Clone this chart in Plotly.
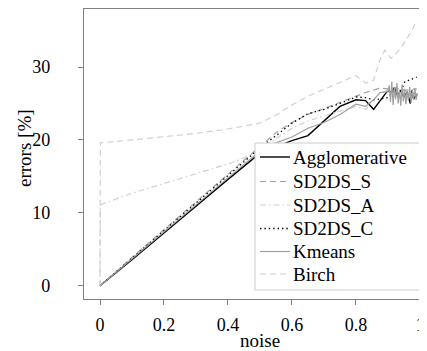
import plotly.graph_objects as go

# shared noise grid (main part)
noise = [0, 0.001, 0.1, 0.2, 0.3, 0.4, 0.5, 0.55, 0.6, 0.65, 0.7, 0.75, 0.8, 0.83, 0.855, 0.875, 0.9]

agglomerative = [0, 0.04, 3.6, 7.3, 10.9, 14.6, 18.2, 19.1, 19.9, 20.6, 22.6, 24.6, 25.5, 25.4, 24.2, 25.3, 26.8]
sd2ds_s = [0, 0.04, 3.9, 7.7, 11.5, 15.3, 19.2, 21.0, 22.4, 23.5, 24.3, 25.2, 26.0, 26.5, 26.8, 27.1, 27.0]
sd2ds_a = [0, 11.1, 12.7, 14.0, 15.4, 16.7, 18.4, 20.2, 21.6, 22.6, 23.3, 24.0, 24.6, 24.2, 25.5, 26.5, 26.8]
sd2ds_c = [0, 0.04, 3.8, 7.6, 11.4, 15.1, 18.9, 20.6, 22.3, 23.6, 24.2, 25.0, 25.9, 25.8, 25.5, 25.6, 25.8]
kmeans = [0, 0.04, 3.7, 7.4, 11.1, 14.8, 18.5, 19.6, 20.4, 21.6, 22.4, 23.5, 24.9, 24.6, 25.5, 26.5, 26.6]
birch = [0, 19.6, 20.0, 20.4, 20.9, 21.5, 22.3, 23.4, 24.8, 26.0, 26.9, 27.8, 28.8, 27.8, 28.2, 31.0, 32.0]

# tails (high-noise region)
agg_tail_x = [0.91, 0.92, 0.93, 0.94, 0.95, 0.96, 0.97, 0.975, 0.98, 0.99]
agg_tail = [26.5, 27.2, 26.0, 26.8, 25.9, 26.6, 25.0, 26.8, 25.6, 26.3]
s_tail_x = [0.92, 0.95, 0.99]
s_tail = [27.2, 26.8, 27.0]
a_tail_x = [0.92, 0.95, 0.99]
a_tail = [26.0, 26.5, 26.2]
c_tail_x = [0.92, 0.935, 0.953, 0.974, 0.99]
c_tail = [26.8, 26.2, 28.0, 28.4, 28.6]
km_tail_x = [0.904, 0.908, 0.912, 0.916, 0.92, 0.924, 0.928, 0.932, 0.936, 0.94, 0.944, 0.948,
             0.952, 0.956, 0.96, 0.964, 0.968, 0.972, 0.976, 0.98, 0.984, 0.988, 0.992]
km_tail = [27.5, 25.2, 28.0, 24.8, 27.2, 25.6, 27.8, 25.0, 26.9, 24.7, 27.6, 25.3,
           27.0, 24.9, 26.6, 25.4, 27.3, 25.1, 26.8, 25.6, 27.1, 25.5, 26.4]
birch_tail_x = [0.89, 0.91, 0.925, 0.94, 0.96, 0.975, 0.99]
birch_tail = [32.3, 31.2, 31.8, 32.6, 34.0, 35.0, 36.4]

FONT = "Liberation Serif, Times New Roman, serif"

# page body has an 8px margin: figure is drawn at (8, 8) in the window
OFF = 8
W, H = 427 - OFF, 351 - OFF
# plot area in window pixels
L, R, T, B = 84, 427, 9, 299


def px(x):
    return (x - L) / (R - L)


def py(y):
    return (B - y) / (B - T)


series = [
    ("Agglomerative", noise + agg_tail_x, agglomerative + agg_tail, "#000000", "solid", 1.4),
    ("SD2DS_S", noise + s_tail_x, sd2ds_s + s_tail, "#a0a0a0", "6px,4px", 1.2),
    ("SD2DS_A", noise + a_tail_x, sd2ds_a + a_tail, "#d0d0d0", "6px,3px,1.5px,3px", 1.2),
    ("SD2DS_C", noise + c_tail_x, sd2ds_c + c_tail, "#000000", "1.4px,3px", 1.3),
    ("Kmeans", noise + km_tail_x, kmeans + km_tail, "#a0a0a0", "solid", 1.2),
    ("Birch", noise[:-1] + birch_tail_x, birch[:-1] + birch_tail, "#d0d0d0", "6px,4px", 1.2),
]

fig = go.Figure()
for name, xs, ys, col, dash, w in series:
    fig.add_trace(go.Scatter(x=xs, y=ys, mode="lines", name=name, showlegend=False,
                             line=dict(color=col, dash=dash, width=w)))

# legend drawn as box + samples + text
shapes = [dict(type="rect", xref="paper", yref="paper",
               x0=px(255), x1=px(421), y0=py(290), y1=py(143),
               line=dict(color="#cccccc", width=1), fillcolor="white", layer="above")]
annotations = []
row_y = [157, 181.5, 205, 228.5, 251.5, 274]
for (name, xs, ys, col, dash, w), ry in zip(series, row_y):
    shapes.append(dict(type="line", xref="paper", yref="paper",
                       x0=px(260), x1=px(290), y0=py(ry), y1=py(ry),
                       line=dict(color=col, dash=dash, width=w), layer="above"))
    annotations.append(dict(text=name, xref="paper", yref="paper", x=px(291), y=py(ry),
                            xanchor="left", yanchor="middle", showarrow=False,
                            font=dict(family=FONT, size=19, color="black")))

# axis titles
annotations.append(dict(text="noise", xref="paper", yref="paper", x=px(260), y=py(340),
                        xanchor="center", yanchor="middle", showarrow=False,
                        font=dict(family=FONT, size=19, color="black")))
annotations.append(dict(text="errors [%]", xref="paper", yref="paper", x=px(24), y=py(148),
                        xanchor="center", yanchor="middle", showarrow=False, textangle=-90,
                        font=dict(family=FONT, size=19, color="black")))

fig.update_layout(
    width=W, height=H,
    margin=dict(l=L - OFF, r=0, t=T - OFF, b=H - (B - OFF)),
    paper_bgcolor="white", plot_bgcolor="white",
    font=dict(family=FONT, size=17, color="black"),
    showlegend=False,
    shapes=shapes, annotations=annotations,
)
fig.update_xaxes(range=[-0.05, 1.022], tickvals=[0, 0.2, 0.4, 0.6, 0.8, 1],
                 ticktext=["0", "0.2", "0.4", "0.6", "0.8", "1"], automargin=False,
                 showgrid=False, zeroline=False, showline=True, linecolor="#808080",
                 linewidth=1.2, mirror=True, ticks="outside", ticklen=5, tickcolor="#808080",
                 ticklabelstandoff=4, tickfont=dict(family=FONT, size=18))
fig.update_yaxes(range=[-1.8, 37.95], tickvals=[0, 10, 20, 30], automargin=False,
                 showgrid=False, zeroline=False, showline=True, linecolor="#808080",
                 linewidth=1.2, mirror=False, ticks="outside", ticklen=5, tickcolor="#808080",
                 ticklabelstandoff=24, tickfont=dict(family=FONT, size=18))

fig.write_html("out.html")
